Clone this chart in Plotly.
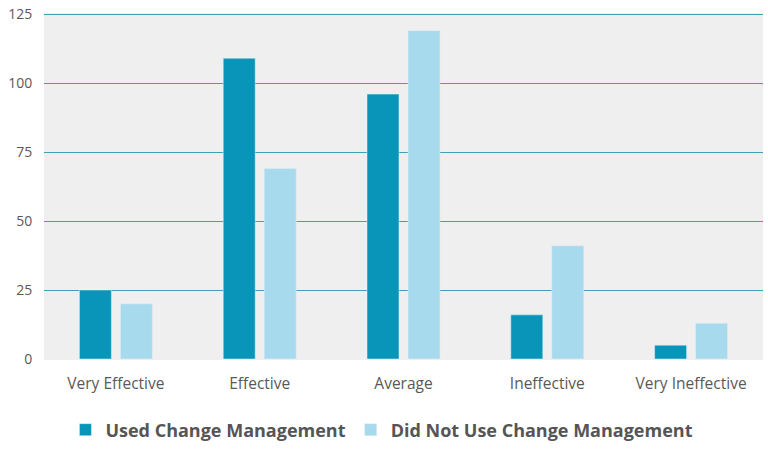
import plotly.graph_objects as go

# effectiveness ratings and survey counts
categories = ["Very Effective", "Effective", "Average", "Ineffective", "Very Ineffective"]
used_cm = [25, 109, 96, 16, 5]
not_used_cm = [20, 69, 119, 41, 13]

fig = go.Figure()
fig.add_trace(go.Bar(x=categories, y=used_cm, name="<b>Used Change Management</b>",
                     marker_color="#0995b9"))
fig.add_trace(go.Bar(x=categories, y=not_used_cm, name="<b>Did Not Use Change Management</b>",
                     marker_color="#a8daed"))

fig.update_layout(
    width=768, height=449,
    margin=dict(l=44, r=5, t=13, b=90, autoexpand=False),
    paper_bgcolor="white",
    plot_bgcolor="#efefef",
    barmode="group",
    bargap=0.43,
    bargroupgap=0.22,
    font=dict(family="Open Sans", color="#595959", size=14),
    legend=dict(orientation="h", x=0.47, xanchor="center", y=-0.205, yanchor="middle",
                font=dict(size=18, color="#555555"), itemwidth=30,
                traceorder="normal"),
    showlegend=True,
)
fig.update_xaxes(showgrid=False, showline=False, ticks="outside", ticklen=10,
                 tickcolor="rgba(0,0,0,0)", tickfont=dict(size=15.5))
fig.update_yaxes(range=[0, 125.4], tickvals=[0, 25, 50, 75, 100, 125],
                 gridcolor="#3fa0b6", gridwidth=1,
                 zeroline=True, zerolinecolor="#efefef",
                 showline=False, ticks="outside", ticklen=8,
                 tickcolor="rgba(0,0,0,0)", tickfont=dict(size=14))

# drop the default 8px body margin so the figure sits at the page corner
fig.write_html("out.html", config={"displayModeBar": False},
               post_script="document.body.style.margin='0';")
